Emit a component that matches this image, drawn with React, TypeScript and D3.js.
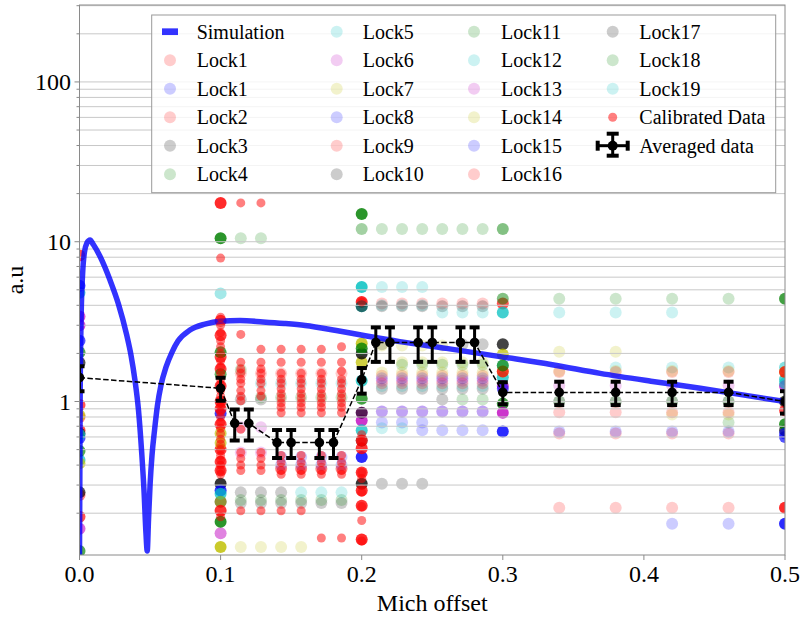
import React from 'react';
import * as d3 from 'd3';

type Pt = [number, number, number?];

const X_DOMAIN: [number, number] = [0, 0.5];
const Y_DOMAIN: [number, number] = [0.1095, 303];

const xTicks = [0, 0.1, 0.2, 0.3, 0.4, 0.5];
const xTickLabels = ['0.0', '0.1', '0.2', '0.3', '0.4', '0.5'];
const yMajorTicks = [1, 10, 100];
const yTickLabels = ['1', '10', '100'];

// Simulation curve
const simX = [0, 0.0005, 0.0012, 0.0022, 0.0035, 0.0052, 0.0075, 0.0098, 0.0145, 0.0216, 0.0275, 0.0334, 0.0365, 0.0393, 0.0418, 0.0441, 0.0457, 0.0471, 0.048, 0.0489, 0.05, 0.0514, 0.0532, 0.0553, 0.0578, 0.0613, 0.0656, 0.0698, 0.0783, 0.0889, 0.0996, 0.1138, 0.13, 0.145, 0.16, 0.182, 0.2035, 0.227, 0.26, 0.298, 0.335, 0.369, 0.405, 0.44, 0.47, 0.5];
const simY = [0.11, 1.2, 3.5, 6.3, 8.6, 9.8, 10.25, 9.6, 8.1, 5.76, 4.1, 2.62, 1.95, 1.36, 0.885, 0.476, 0.279, 0.15, 0.116, 0.181, 0.3, 0.463, 0.663, 0.951, 1.27, 1.64, 2.04, 2.39, 2.8, 3.05, 3.18, 3.21, 3.15, 3.08, 2.99, 2.78, 2.57, 2.37, 2.15, 1.91, 1.7, 1.5, 1.34, 1.21, 1.1, 1.0];

// Averaged data with error bars
const avgX = [0, 0.1, 0.11, 0.12, 0.14, 0.15, 0.17, 0.18, 0.2, 0.21, 0.22, 0.24, 0.25, 0.27, 0.28, 0.3, 0.34, 0.38, 0.42, 0.46, 0.5];
const avgY = [1.41, 1.21, 0.73, 0.73, 0.553, 0.553, 0.553, 0.553, 1.37, 2.34, 2.34, 2.34, 2.34, 2.34, 2.34, 1.14, 1.14, 1.14, 1.14, 1.14, 1.0];
const avgErr = [0.25, 0.2, 0.16, 0.16, 0.11, 0.11, 0.11, 0.11, 0.25, 0.57, 0.57, 0.57, 0.57, 0.57, 0.57, 0.18, 0.19, 0.19, 0.19, 0.19, 0.16];

// Lock scans: [x, y, repeats]
const lock1a: Pt[] = [[0, 8.2, 5], [0.1, 17.5, 8], [0.2, 0.223, 7], [0.34, 0.63], [0.38, 0.63], [0.42, 0.63], [0.46, 0.63]];
const lock1b: Pt[] = [[0, 0.59, 5], [0.1, 0.84, 6], [0.2, 0.45, 8], [0.2143, 0.74], [0.2286, 0.74], [0.2429, 0.74], [0.34, 0.65], [0.38, 0.65], [0.42, 0.65], [0.46, 0.65], [0.5, 0.6, 5]];
const lock2: Pt[] = [[0, 0.95, 5], [0, 0.8, 3], [0.1, 3.2, 6], [0.1, 2.6, 6], [0.1, 1.9, 6], [0.1, 1.6, 6], [0.1, 1.25, 6], [0.1, 1.0, 6], [0.1, 0.9, 6], [0.1, 0.72, 6], [0.1, 0.5, 6], [0.1, 0.42, 6], [0.1, 0.37, 6], [0.2, 0.51, 7], [0.2, 0.137, 8], [0.2143, 1.45], [0.2286, 1.45], [0.2429, 1.45], [0.2571, 1.45], [0.2714, 1.45], [0.2857, 1.45], [0.34, 0.216], [0.38, 0.216], [0.42, 0.216], [0.46, 0.216], [0.5, 0.216, 8]];
const lock3: Pt[] = [[0, 1.75, 5], [0.1, 0.306, 7], [0.1143, 0.27], [0.1286, 0.27], [0.1429, 0.27], [0.2, 0.306, 7], [0.2, 0.57, 3], [0.2143, 1.2], [0.2286, 1.2], [0.2429, 1.2], [0.2571, 1.2], [0.2714, 1.2], [0.2857, 1.2], [0.3, 2.28, 6], [0.34, 1.0], [0.38, 1.0], [0.42, 1.0], [0.46, 1.0], [0.5, 0.66, 5]];
const lock4: Pt[] = [[0, 2.03, 5], [0.1, 10.5, 8], [0.1143, 10.5], [0.1286, 10.5], [0.1143, 1.58], [0.2, 14.9, 8], [0.3, 0.97, 6], [0.46, 0.74], [0.5, 0.72, 7]];
const lock5: Pt[] = [[0, 4.8, 5], [0.1286, 1.3], [0.1429, 1.3], [0.1571, 1.3], [0.1714, 1.3], [0.1857, 1.3], [0.2, 5.2, 8], [0.2143, 5.2], [0.2286, 5.2], [0.2429, 5.2], [0.2143, 1.25], [0.2286, 1.25], [0.2429, 1.25], [0.2571, 1.25], [0.2714, 1.25], [0.2857, 1.25], [0.3, 1.68, 3], [0.5, 1.38, 5]];
const lock6: Pt[] = [[0, 3.4, 5], [0, 0.16, 4], [0.1, 0.15, 3], [0.1143, 0.48], [0.1286, 0.48], [0.2, 0.76, 7], [0.2143, 1.35], [0.2286, 1.35], [0.2429, 1.35], [0.2571, 1.35], [0.2714, 1.35], [0.2857, 1.35], [0.3, 0.85, 7], [0.34, 1.26], [0.38, 1.26], [0.42, 1.26], [0.46, 1.26], [0.5, 1.25, 6]];
const lock7: Pt[] = [[0, 0.82, 5], [0.1, 0.123, 8], [0.1, 0.55, 5], [0.1143, 0.123], [0.1286, 0.123], [0.1429, 0.123], [0.1571, 0.123], [0.2, 1.76, 6], [0.2286, 1.76], [0.2429, 1.76], [0.2571, 1.76], [0.2714, 1.76], [0.2857, 1.76], [0.3, 1.97, 6], [0.34, 2.05], [0.38, 2.05], [0.42, 0.83], [0.46, 0.83]];
const lock8: Pt[] = [[0, 5.3, 5], [0.1, 0.277, 7], [0.1429, 0.45], [0.1571, 0.45], [0.1714, 0.45], [0.1857, 0.45], [0.2143, 1.4], [0.2286, 1.4], [0.2429, 1.4], [0.2571, 1.4], [0.2714, 1.4], [0.2857, 1.4], [0.2429, 0.66], [0.2571, 0.66], [0.2714, 0.66], [0.2857, 0.66], [0.3, 0.65, 8]];
const lock9: Pt[] = [[0, 0.66, 5], [0, 0.26, 3], [0.1429, 0.38, 3], [0.1571, 0.38, 3], [0.1714, 0.38, 3], [0.1857, 0.38, 3], [0.2, 4.2, 8], [0.2, 0.277, 7], [0.2143, 4.1], [0.2286, 4.1], [0.2429, 4.1], [0.2571, 4.1], [0.2714, 4.1], [0.2857, 4.1], [0.3, 4.1, 5], [0.34, 0.857], [0.38, 0.857], [0.42, 0.857], [0.46, 0.857]];
const lock10: Pt[] = [[0, 0.63, 4], [0.1, 0.236, 4], [0.1143, 0.232], [0.1286, 0.232], [0.1429, 0.232], [0.1571, 0.232], [0.1714, 0.232], [0.1857, 0.232], [0.2, 2.0, 7], [0.2143, 2.28], [0.2714, 2.28], [0.2857, 2.28], [0.2143, 0.306], [0.2286, 0.306], [0.2429, 0.306], [0.5, 1.0, 6]];
const lock11: Pt[] = [[0, 0.116, 5], [0.1, 2.03, 6], [0.1143, 0.242], [0.1286, 0.242], [0.1429, 0.242], [0.1571, 0.242], [0.1714, 0.242], [0.1857, 0.242], [0.2, 1.04, 6], [0.2286, 1.7], [0.2429, 1.7], [0.2571, 1.7], [0.2714, 1.7], [0.2857, 1.7], [0.3, 4.4, 3], [0.34, 4.4], [0.38, 4.4], [0.42, 4.4], [0.46, 4.4], [0.5, 4.4, 6]];
const lock12: Pt[] = [[0, 0.43, 5], [0.1, 0.265, 6], [0.1571, 0.27], [0.1714, 0.27], [0.1857, 0.27], [0.2, 3.95, 6], [0.2, 0.66, 6], [0.2143, 4.0], [0.2286, 4.0], [0.2429, 4.0], [0.2143, 0.68], [0.2286, 0.68], [0.3, 1.42, 6], [0.38, 1.63], [0.42, 1.63], [0.46, 1.63], [0.5, 1.63, 3]];
const lock13: Pt[] = [[0, 3.0, 5], [0.1143, 0.69], [0.1286, 0.69], [0.2, 0.85, 6], [0.2143, 0.865], [0.2286, 0.865], [0.2429, 0.865], [0.2571, 0.865], [0.2714, 0.865], [0.2857, 0.865], [0.3, 1.25, 6]];
const lock14: Pt[] = [[0, 0.41, 5], [0.1, 0.63, 5], [0.1, 0.236, 3], [0.2, 2.31, 7], [0.2143, 2.24], [0.2286, 2.24], [0.2429, 2.24], [0.2571, 2.24], [0.2143, 1.52], [0.2286, 1.52], [0.2429, 1.52], [0.2571, 1.52], [0.2714, 1.52], [0.2857, 1.52], [0.3, 1.54, 3], [0.34, 1.55], [0.38, 1.55], [0.42, 1.55], [0.46, 1.55], [0.5, 1.53, 4]];
const lock15: Pt[] = [[0, 2.4, 5], [0.1429, 0.4], [0.1571, 0.4], [0.1714, 0.4], [0.1857, 0.4], [0.2143, 0.865], [0.2286, 0.865], [0.2429, 0.865], [0.2571, 0.865], [0.2714, 0.865], [0.2857, 0.865], [0.3, 1.2, 4], [0.42, 0.172], [0.46, 0.172], [0.5, 0.172, 8], [0.5, 0.63, 4]];
const lock16: Pt[] = [[0, 0.19, 5], [0.1, 0.207, 7], [0.1143, 1.5], [0.1286, 1.5], [0.1429, 1.5], [0.1571, 1.5], [0.1714, 1.5], [0.1857, 1.5], [0.2, 0.57, 6], [0.2, 0.36, 7], [0.2143, 1.3], [0.2286, 1.3], [0.2429, 1.3], [0.2571, 1.3], [0.2714, 1.3], [0.2857, 1.3], [0.3, 1.54, 6], [0.34, 1.53], [0.38, 1.53], [0.42, 1.53], [0.46, 1.53], [0.5, 1.53, 6], [0.5, 0.88, 5]];
const lock17: Pt[] = [[0, 0.27, 5], [0.1143, 1.03], [0.1286, 1.03], [0.2, 3.95, 3], [0.2143, 3.95], [0.2286, 3.95], [0.2429, 3.95], [0.2571, 3.95], [0.2714, 3.95], [0.2857, 3.95], [0.2, 0.85, 4], [0.2571, 1.03]];
const lock18: Pt[] = [[0, 0.49, 5], [0.1, 1.48, 4], [0.1, 0.177, 8], [0.1286, 1.06], [0.1429, 1.06], [0.1571, 1.06], [0.1714, 1.06], [0.1857, 1.06], [0.2, 2.15, 7], [0.2, 12.0, 2], [0.2143, 12.0], [0.2286, 12.0], [0.2429, 12.0], [0.2571, 12.0], [0.2714, 12.0], [0.2857, 12.0], [0.3, 12.0, 3], [0.3, 1.68, 5], [0.2714, 1.03], [0.2857, 1.03], [0.34, 1.0], [0.38, 1.0], [0.42, 1.0], [0.46, 1.0]];
const lock19: Pt[] = [[0, 0.62, 5], [0.1, 4.75, 2], [0.2, 1.35, 6], [0.2571, 3.6], [0.2714, 3.6], [0.2857, 3.6], [0.3, 3.6, 6], [0.34, 3.6], [0.38, 3.6], [0.42, 3.6], [0.5, 1.3, 4]];

const lockNames = ['Lock1', 'Lock1', 'Lock2', 'Lock3', 'Lock4', 'Lock5', 'Lock6', 'Lock7', 'Lock8', 'Lock9', 'Lock10', 'Lock11', 'Lock12', 'Lock13', 'Lock14', 'Lock15', 'Lock16', 'Lock17', 'Lock18', 'Lock19'];
const lockColors = ['#ff0000', '#0000ff', '#ff0000', '#000000', '#008000', '#00bfbf', '#bf00bf', '#bfbf00', '#0000ff', '#ff0000', '#000000', '#008000', '#00bfbf', '#bf00bf', '#bfbf00', '#0000ff', '#ff0000', '#000000', '#008000', '#00bfbf'];
const lockData = [lock1a, lock1b, lock2, lock3, lock4, lock5, lock6, lock7, lock8, lock9, lock10, lock11, lock12, lock13, lock14, lock15, lock16, lock17, lock18, lock19];

// Calibrated data
const calibX = [0.1, 0.1143, 0.1286, 0.1429, 0.1571, 0.1714, 0.1857, 0.2];
const calibY = [
  [7.9, 3.37, 3.0, 2.7, 2.4, 2.2, 2.0, 1.8, 1.65, 1.5, 1.38, 1.27, 1.17, 1.08, 1.0, 0.93, 0.86, 0.8, 0.74, 0.68, 0.63, 0.58, 0.54, 0.5, 0.46, 0.43, 0.4, 0.37, 0.35, 0.19],
  [17.5, 2.63, 1.76, 1.6, 1.5, 1.38, 1.3, 1.17, 1.08, 1.01, 0.67, 0.48, 0.44, 0.4, 0.37, 0.207],
  [17.5, 2.12, 1.76, 1.6, 1.5, 1.38, 1.3, 1.17, 1.08, 0.48, 0.44, 0.4, 0.37, 0.207],
  [2.12, 1.76, 1.5, 1.38, 1.3, 1.2, 1.12, 1.05, 0.98, 0.92, 0.85, 0.46, 0.415, 0.37, 0.35, 0.207],
  [2.12, 1.76, 1.5, 1.38, 1.3, 1.2, 1.12, 1.05, 0.98, 0.92, 0.85, 0.46, 0.415, 0.37, 0.35, 0.207],
  [2.12, 1.76, 1.5, 1.38, 1.3, 1.2, 1.12, 1.05, 0.98, 0.92, 0.85, 0.46, 0.415, 0.37, 0.35, 0.14],
  [2.2, 1.76, 1.55, 1.38, 1.3, 1.2, 1.12, 1.05, 0.98, 0.92, 0.85, 0.46, 0.415, 0.37, 0.35, 0.14],
  [4.2, 0.62, 0.56, 0.36, 0.33, 0.27, 0.22, 0.18, 0.134],
];

export default function App() {
  const left = 79.5, right = 785, top = 5, bottom = 555;
  const x = d3.scaleLinear().domain(X_DOMAIN).range([left, right]);
  const y = d3.scaleLog().domain(Y_DOMAIN).range([bottom, top]);

  const simLine = d3.line<number>().x((_, i) => x(simX[i])).y((d) => y(d)).curve(d3.curveMonotoneX);
  const avgLine = d3.line<number>().x((_, i) => x(avgX[i])).y((d) => y(d));

  const gridVals: number[] = [];
  [-1, 0, 1, 2].forEach((e) => {
    for (let m = 1; m <= 9; m++) {
      const v = m * Math.pow(10, e);
      if (v >= Y_DOMAIN[0] && v <= Y_DOMAIN[1]) gridVals.push(v);
    }
  });

  const font = "'Liberation Serif', 'Times New Roman', Times, serif";
  const spine = '#8a8a8a';

  type Entry = { label: string; kind: 'sim' | 'lock' | 'cal' | 'avg'; color?: string };
  const entries: Entry[] = [
    { label: 'Simulation', kind: 'sim' },
    ...lockNames.map((n, i) => ({ label: n, kind: 'lock' as const, color: lockColors[i] })),
    { label: 'Calibrated Data', kind: 'cal' },
    { label: 'Averaged data', kind: 'avg' },
  ];
  const colMarkerX = [170, 336.7, 474, 612.7];
  const colTextX = [196.7, 362.7, 501, 639.3];
  const rowY0 = 31.7, rowStep = 28.5;

  return (
    <svg width={802} height={619} style={{ position: 'absolute', left: 0, top: 0, background: '#fff' }} fontFamily={font}>
      <defs>
        <clipPath id="plotArea">
          <rect x={left} y={top} width={right - left} height={bottom - top} />
        </clipPath>
      </defs>
      <rect x={0} y={0} width={802} height={619} fill="#fff" />

      <g clipPath="url(#plotArea)">
        {lockData.map((pts, li) =>
          pts.map((p, j) => (
            <circle key={`l${li}-${j}`} cx={x(p[0])} cy={y(p[1])} r={6} fill={lockColors[li]} fillOpacity={1 - Math.pow(0.8, p[2] ?? 1)} />
          ))
        )}
      </g>

      {gridVals.map((v, i) => (
        <line key={`g${i}`} x1={left} x2={right} y1={y(v)} y2={y(v)} stroke="#c8c8c8" strokeWidth={1} />
      ))}

      <g clipPath="url(#plotArea)">
        <path d={simLine(simY) || ''} fill="none" stroke="#0000ff" strokeOpacity={0.8} strokeWidth={5.5} strokeLinejoin="round" />
        {calibX.map((cx, i) =>
          calibY[i].map((v, j) => <circle key={`c${i}-${j}`} cx={x(cx)} cy={y(v)} r={4.5} fill="#ff0000" fillOpacity={0.5} />)
        )}
        <path d={avgLine(avgY) || ''} fill="none" stroke="#000" strokeWidth={1.5} strokeDasharray="5.5,2.4" />
        {avgX.map((ax, i) => {
          const cx = x(ax);
          const y1 = y(avgY[i] + avgErr[i]);
          const y2 = y(avgY[i] - avgErr[i]);
          return (
            <g key={`a${i}`}>
              <line x1={cx} x2={cx} y1={y1} y2={y2} stroke="#000" strokeWidth={3} />
              <line x1={cx - 5} x2={cx + 5} y1={y1} y2={y1} stroke="#000" strokeWidth={4} />
              <line x1={cx - 5} x2={cx + 5} y1={y2} y2={y2} stroke="#000" strokeWidth={4} />
              <circle cx={cx} cy={y(avgY[i])} r={4.8} fill="#000" />
            </g>
          );
        })}
      </g>

      <rect x={left} y={top} width={right - left} height={bottom - top} fill="none" stroke={spine} strokeWidth={1} />

      {xTicks.map((t, i) => (
        <g key={`xt${i}`}>
          <line x1={x(t)} x2={x(t)} y1={bottom} y2={bottom + 5} stroke={spine} strokeWidth={1} />
          <text x={x(t)} y={582} fontSize={24} textAnchor="middle" fill="#000">{xTickLabels[i]}</text>
        </g>
      ))}
      {gridVals.map((v, i) => {
        const major = yMajorTicks.includes(v);
        return <line key={`yt${i}`} x1={left - (major ? 5 : 3)} x2={left} y1={y(v)} y2={y(v)} stroke={spine} strokeWidth={1} />;
      })}
      {yMajorTicks.map((t, i) => (
        <text key={`yl${i}`} x={71} y={y(t) + 8} fontSize={24} textAnchor="end" fill="#000">{yTickLabels[i]}</text>
      ))}

      <text x={(left + right) / 2} y={611} fontSize={24} textAnchor="middle" fill="#000">Mich offset</text>
      <text transform={`translate(23, ${(top + bottom) / 2}) rotate(-90)`} fontSize={24} textAnchor="middle" fill="#000">a.u</text>

      <rect x={151.7} y={15} width={624} height={177.7} fill="#fff" fillOpacity={0.8} stroke="#999" strokeWidth={1} />
      {entries.map((e, i) => {
        const col = Math.floor(i / 6);
        const row = i % 6;
        const my = rowY0 + row * rowStep;
        const mx = colMarkerX[col];
        let handle: React.ReactNode = null;
        if (e.kind === 'sim') {
          handle = <line x1={mx - 8} x2={mx + 8} y1={my} y2={my} stroke="#0000ff" strokeOpacity={0.8} strokeWidth={6.7} />;
        } else if (e.kind === 'lock') {
          handle = <circle cx={mx} cy={my} r={6} fill={e.color} fillOpacity={0.2} />;
        } else if (e.kind === 'cal') {
          handle = <circle cx={mx} cy={my} r={4.5} fill="#ff0000" fillOpacity={0.5} />;
        } else {
          handle = (
            <g>
              <line x1={mx - 15} x2={mx + 15} y1={my} y2={my} stroke="#000" strokeWidth={3} />
              <line x1={mx - 15} x2={mx - 15} y1={my - 5} y2={my + 5} stroke="#000" strokeWidth={4} />
              <line x1={mx + 15} x2={mx + 15} y1={my - 5} y2={my + 5} stroke="#000" strokeWidth={4} />
              <line x1={mx} x2={mx} y1={my - 12} y2={my + 10} stroke="#000" strokeWidth={3} />
              <line x1={mx - 6} x2={mx + 6} y1={my - 12} y2={my - 12} stroke="#000" strokeWidth={4} />
              <line x1={mx - 6} x2={mx + 6} y1={my + 10} y2={my + 10} stroke="#000" strokeWidth={4} />
              <circle cx={mx} cy={my} r={5} fill="#000" />
            </g>
          );
        }
        return (
          <g key={`lg${i}`}>
            {handle}
            <text x={colTextX[col]} y={my + 7} fontSize={20} fill="#000">{e.label}</text>
          </g>
        );
      })}
    </svg>
  );
}
